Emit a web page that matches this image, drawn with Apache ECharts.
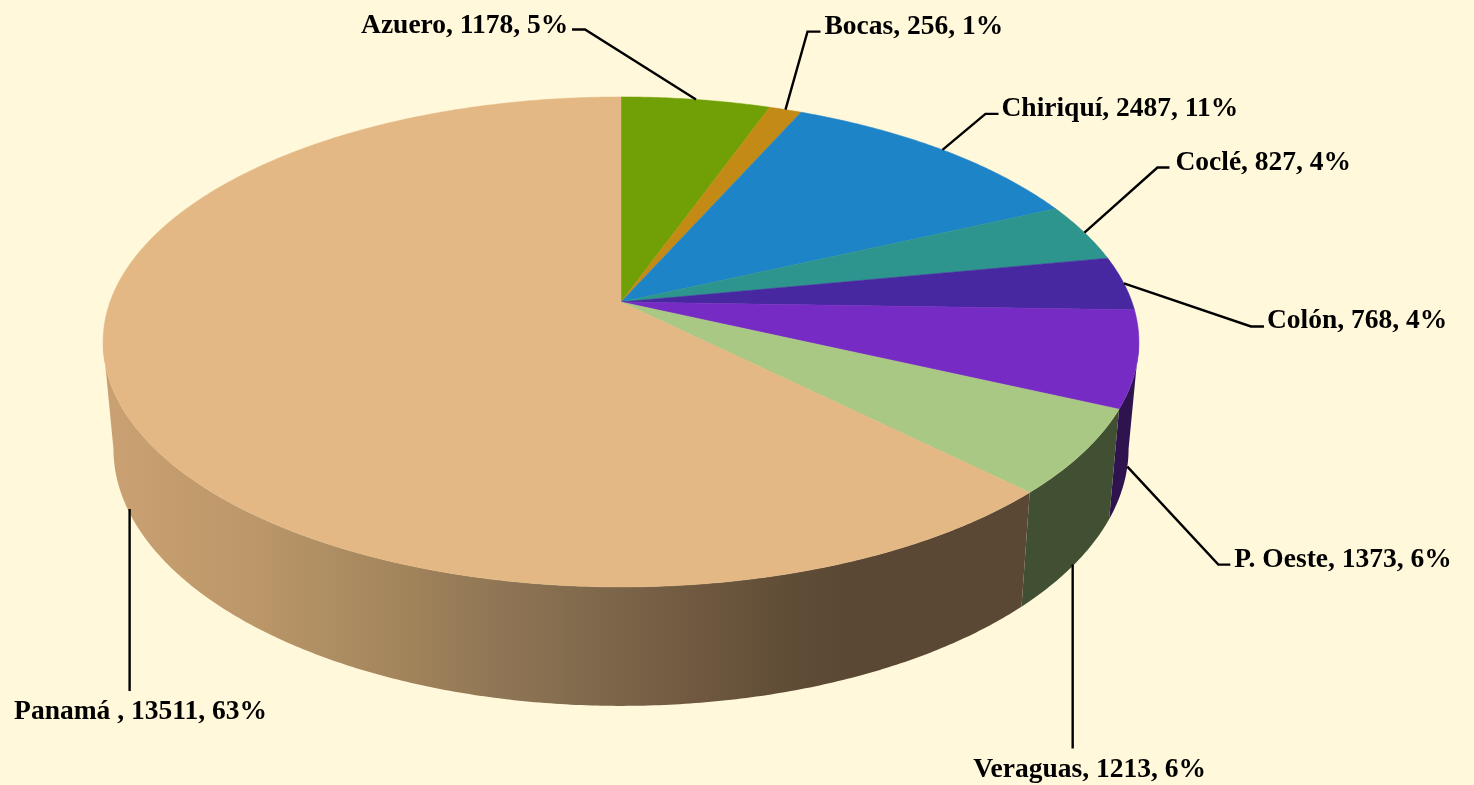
<!DOCTYPE html>
<html>
<head>
<meta charset="utf-8">
<title>Pie</title>
<script src="https://cdn.jsdelivr.net/npm/echarts@6/dist/echarts.min.js"></script>
<style>
  html, body { margin: 0; padding: 0; background: #fff8da; }
  #main { width: 1474px; height: 785px; }
</style>
</head>
<body>
<div id="main"></div>
<script>
const categories = ['Azuero', 'Bocas', 'Chiriquí', 'Coclé', 'Colón', 'P. Oeste', 'Veraguas', 'Panamá '];
const values = [1178, 256, 2487, 827, 768, 1373, 1213, 13511];
const percents = [5, 1, 11, 4, 4, 6, 6, 63];
const topColors = ['#70a005', '#c48a16', '#1e84c8', '#2d948e', '#4728a0', '#762cc4', '#a9c884', '#e3b884'];
const sideColors = ['#2d4002', '#4e3709', '#0c3550', '#123b39', '#1c1040', '#2e134f', '#414f33'];
const panamaSide = ['#c9a071', '#bc9769', '#ae8e63', '#a3855c', '#8f7555', '#7e684b', '#6f583f', '#5e4c36', '#5b4834', '#5b4834'];
const panamaStops = [0, 0.145, 0.232, 0.31, 0.419, 0.529, 0.638, 0.748, 0.803, 1];

// leader line: elbow offset from the slice edge, then where the text starts from the elbow
const elbowOffsets = [[-111, -70], [22, -78], [43, -36], [73, -65], [127, 43], [91, 98], [-1.5, 184], [2, 182]];
const textOffsets = [[-224, -4], [17, -5], [16, -5], [18, -5], [16, -6], [16, -5], [-99.5, 21], [-115.5, 21]];
const elbowTails = [-13, 13, 13, 12, 13, 12, 0, 0];

// projection of the tilted disc, the apex sits above the ellipse centre
const cx = 621, cy = 302, a = 511, b = 238.5, k = 0.163;
const total = values.reduce((s, v) => s + v, 0);
const rad = (d) => d * Math.PI / 180;
// where the rim turns away from the viewer, only the front part between these gets a side wall
const rimStart = Math.acos(-k) * 180 / Math.PI;
const rimEnd = 360 - rimStart;

function topPoint(deg) {
  const w = 1 + k * Math.cos(rad(deg));
  return [cx + a * Math.sin(rad(deg)) / w, cy - b * Math.cos(rad(deg)) / w];
}
function bottomPoint(deg) {
  const w = 1 + k * Math.cos(rad(deg));
  return [cx + 0.98 * a * Math.sin(rad(deg)) / w, cy + 104.7 - 1.05 * b * Math.cos(rad(deg)) / w];
}
function arc(fn, from, to) {
  const pts = [];
  const n = Math.max(2, Math.ceil(Math.abs(to - from) * 2));
  for (let i = 0; i <= n; i++) pts.push(fn(from + (to - from) * i / n));
  return pts;
}

let sum = 0;
const slices = values.map((v, i) => {
  const start = sum / total * 360;
  sum += v;
  return [start, sum / total * 360, i];
});

const panamaGradient = {
  type: 'linear', global: true, x: 118, y: 0, x2: 1030, y2: 0,
  colorStops: panamaStops.map((o, i) => ({ offset: o, color: panamaSide[i] }))
};

function renderSide(params, api) {
  const from = Math.max(api.value(0), rimStart);
  const to = Math.min(api.value(1), rimEnd);
  const i = api.value(2);
  if (to <= from) return null;
  const fill = i === 7 ? panamaGradient : sideColors[i];
  const pts = arc(topPoint, from, to).concat(arc(bottomPoint, to, from));
  return { type: 'polygon', shape: { points: pts }, style: { fill: fill } };
}

function renderTop(params, api) {
  const i = api.value(2);
  const pts = [[cx, cy]].concat(arc(topPoint, api.value(0), api.value(1)));
  return {
    type: 'polygon',
    shape: { points: pts },
    style: { fill: topColors[i], stroke: topColors[i], lineWidth: 0.5 }
  };
}

function renderLabel(params, api) {
  const i = api.value(2);
  const mid = (api.value(0) + api.value(1)) / 2;
  const onTop = Math.cos(rad(mid)) > -0.05;
  let s = onTop ? topPoint(mid) : bottomPoint(mid);
  const e = [s[0] + elbowOffsets[i][0], s[1] + elbowOffsets[i][1]];
  if (!elbowTails[i]) s = [e[0], s[1]];
  const pts = [s, e];
  if (elbowTails[i]) pts.push([e[0] + elbowTails[i], e[1]]);
  return {
    type: 'group',
    children: [
      {
        type: 'polyline',
        shape: { points: pts },
        style: { fill: null, stroke: '#000', lineWidth: 2.4 }
      },
      {
        type: 'text',
        style: {
          text: categories[i] + ', ' + values[i] + ', ' + percents[i] + '%',
          x: e[0] + textOffsets[i][0],
          y: e[1] + textOffsets[i][1],
          fill: '#000',
          font: 'bold 27.5px "Liberation Serif", serif',
          textAlign: 'left',
          textVerticalAlign: 'middle'
        }
      }
    ]
  };
}

const myChart = echarts.init(document.getElementById('main'), null, { renderer: 'canvas' });
myChart.setOption({
  backgroundColor: '#fff8da',
  animation: false,
  series: [
    { type: 'custom', coordinateSystem: 'none', renderItem: renderSide, data: slices, silent: true, z: 1 },
    { type: 'custom', coordinateSystem: 'none', renderItem: renderTop, data: slices, silent: true, z: 2 },
    { type: 'custom', coordinateSystem: 'none', renderItem: renderLabel, data: slices, silent: true, z: 3 }
  ]
});
</script>
</body>
</html>
